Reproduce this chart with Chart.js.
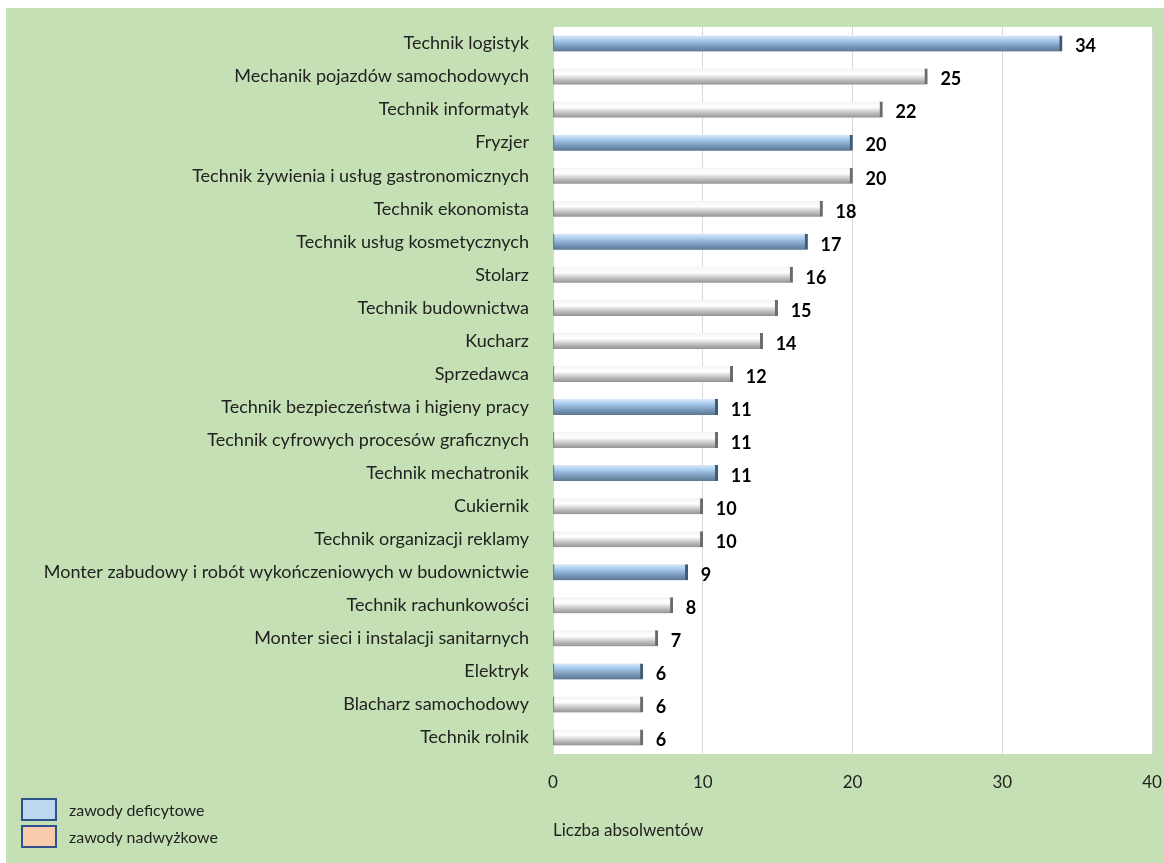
<!DOCTYPE html>
<html>
<head>
<meta charset="utf-8">
<script src="https://cdn.jsdelivr.net/npm/chart.js@4"></script>
<style>
  html, body { margin:0; padding:0; background:#fff; }
  #wrap { position:relative; width:1164px; height:863px; }
  #legend { position:absolute; left:21px; top:796px; font-family:Lato, sans-serif; font-size:16px; color:#222; }
  #legend div { display:flex; align-items:center; height:26px; margin-bottom:1px; }
  #legend span.box { display:inline-block; width:32px; height:19px; border:2px solid #2f528f; margin-right:12px; }
</style>
</head>
<body>
<div id="wrap">
  <canvas id="chart" width="1164" height="863"></canvas>
  <div id="legend">
    <div><span class="box" style="background:#bdd7ee"></span>zawody deficytowe</div>
    <div><span class="box" style="background:#f8cbad"></span>zawody nadwyżkowe</div>
  </div>
</div>
<script>
const categories = [
  'Technik logistyk',
  'Mechanik pojazdów samochodowych',
  'Technik informatyk',
  'Fryzjer',
  'Technik żywienia i usług gastronomicznych',
  'Technik ekonomista',
  'Technik usług kosmetycznych',
  'Stolarz',
  'Technik budownictwa',
  'Kucharz',
  'Sprzedawca',
  'Technik bezpieczeństwa i higieny pracy',
  'Technik cyfrowych procesów graficznych',
  'Technik mechatronik',
  'Cukiernik',
  'Technik organizacji reklamy',
  'Monter zabudowy i robót wykończeniowych w budownictwie',
  'Technik rachunkowości',
  'Monter sieci i instalacji sanitarnych',
  'Elektryk',
  'Blacharz samochodowy',
  'Technik rolnik'
];
const graduates = [34, 25, 22, 20, 20, 18, 17, 16, 15, 14, 12, 11, 11, 11, 10, 10, 9, 8, 7, 6, 6, 6];
const deficit = [true, false, false, true, false, false, true, false, false, false, false, true, false, true, false, false, true, false, false, true, false, false];
const xTicks = [0, 10, 20, 30, 40];

const FONT = 'Lato, sans-serif';

// bar fill: vertical gradient per bar to mimic the cylinder look
function barFill(c) {
  const chart = c.chart;
  const blue = deficit[c.dataIndex];
  if (!chart.chartArea || !chart.scales.y) return blue ? '#9cc3ea' : '#d0d0d0';
  const y = chart.scales.y.getPixelForValue(c.dataIndex);
  const g = chart.ctx.createLinearGradient(0, y - 8, 0, y + 8);
  if (blue) {
    g.addColorStop(0, '#dbe9f7');
    g.addColorStop(0.3, '#a7cbee');
    g.addColorStop(0.65, '#7d9dbd');
    g.addColorStop(1, '#5b7793');
  } else {
    g.addColorStop(0, '#f4f4f4');
    g.addColorStop(0.35, '#ffffff');
    g.addColorStop(0.7, '#c2c2c2');
    g.addColorStop(1, '#939393');
  }
  return g;
}

const background = {
  id: 'background',
  beforeDraw(chart) {
    const {ctx, chartArea} = chart;
    ctx.save();
    ctx.fillStyle = '#ffffff';
    ctx.fillRect(0, 0, chart.width, chart.height);
    ctx.fillStyle = '#c5e0b4';
    ctx.fillRect(6, 8, chart.width - 6, chart.height - 8);
    ctx.fillStyle = '#ffffff';
    ctx.fillRect(chartArea.left, chartArea.top, chartArea.right - chartArea.left, chartArea.bottom - chartArea.top);
    ctx.restore();
  }
};

const valueLabels = {
  id: 'valueLabels',
  afterDatasetsDraw(chart) {
    const ctx = chart.ctx;
    const meta = chart.getDatasetMeta(0);
    ctx.save();
    ctx.font = 'bold 18px ' + FONT;
    ctx.fillStyle = '#000';
    ctx.textBaseline = 'middle';
    meta.data.forEach((bar, i) => {
      ctx.fillText(String(graduates[i]), bar.x + 13, bar.y + 3);
    });
    ctx.restore();
  }
};

new Chart(document.getElementById('chart').getContext('2d'), {
  type: 'bar',
  data: {
    labels: categories,
    datasets: [{
      label: 'Liczba absolwentów',
      data: graduates,
      backgroundColor: barFill,
      borderColor: c => deficit[c.dataIndex] ? '#3f5a75' : '#6b6b6b',
      borderWidth: {top: 0, bottom: 0, left: 1, right: 3},
      borderSkipped: false,
      barThickness: 16
    }]
  },
  options: {
    indexAxis: 'y',
    responsive: false,
    animation: false,
    layout: {padding: {top: 27, right: 12, left: 0, bottom: 0}},
    plugins: {legend: {display: false}, tooltip: {enabled: false}},
    scales: {
      x: {
        min: 0, max: 40,
        afterBuildTicks: s => { s.ticks = xTicks.map(v => ({value: v})); },
        afterFit: s => { s.height = 109; s.paddingRight = 0; s.paddingLeft = 0; },
        grid: {color: '#d9d9d9', drawTicks: false},
        border: {display: false},
        ticks: {padding: 18, color: '#222', font: {family: FONT, size: 17}},
        title: {
          display: true, text: 'Liczba absolwentów', align: 'start',
          color: '#222', font: {family: FONT, size: 17}, padding: {top: 4, bottom: 22}
        }
      },
      y: {
        afterFit: s => { s.width = 553; },
        grid: {display: false},
        border: {display: false},
        ticks: {padding: 16, color: '#222', font: {family: FONT, size: 18}, autoSkip: false}
      }
    }
  },
  plugins: [background, valueLabels]
});
</script>
</body>
</html>
